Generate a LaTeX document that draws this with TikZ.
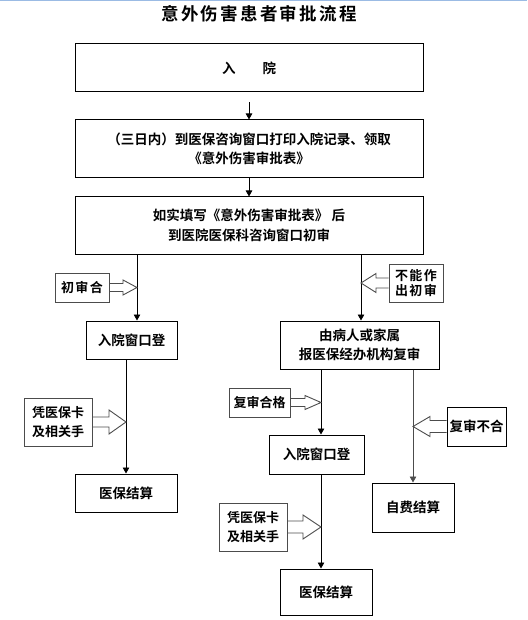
\documentclass[tikz,border=0pt]{standalone}
\usepackage{fontspec}
\setmainfont{Noto Sans CJK SC}[BoldFont={* Bold}]
\usetikzlibrary{arrows.meta, calc}
\colorlet{colorFrame}{black}
\colorlet{colorNote}{black!70}
\definecolor{colorRule}{RGB}{155,187,228}
\tikzset{
  stepbox/.style={draw=colorFrame, line width=1pt, align=center, inner sep=0pt, font=\bfseries\fontsize{13.5}{19.5}\selectfont},
  notebox/.style={draw=colorNote, line width=1pt, align=center, inner sep=0pt, font=\bfseries\fontsize{13}{19}\selectfont},
  flow/.style={-{Triangle[length=6pt,width=6.5pt]}, line width=0.9pt},
  noteshaft/.style={draw=colorNote, line width=0.9pt},
}
% box, anchor, line, shaft half, head half, head length (signed)
\newcommand{\notearrow}[6]{%
  \coordinate (tip) at (#3 |- #1.#2);
  \draw[noteshaft] ([yshift=#4pt]#1.#2) -- ([xshift=#6pt,yshift=#4pt]tip) -- ([xshift=#6pt,yshift=#5pt]tip) -- (tip)
    -- ([xshift=#6pt,yshift=-#5pt]tip) -- ([xshift=#6pt,yshift=-#4pt]tip) -- ([yshift=-#4pt]#1.#2);
}

\begin{document}
\begin{tikzpicture}[x=1pt, y=-1pt]
\useasboundingbox (0,0) rectangle (527,620);
\draw[colorRule, line width=1.5pt] (0,0.75) -- (527,0.75);
\node[font=\bfseries\fontsize{17.5}{20}\selectfont\addfontfeature{LetterSpace=13}] (title) at (259,14) {意外伤害患者审批流程};

% main steps
\node[stepbox, minimum width=348pt, minimum height=48pt] (adm) at (249,68) {入　　院};
\node[stepbox, minimum width=348pt, minimum height=58pt] (print) at (249,149) {（三日内）到医保咨询窗口打印入院记录、领取\\《意外伤害审批表》};
\node[stepbox, minimum width=348pt, minimum height=57pt] (fill) at (249,225.5) {如实填写《意外伤害审批表》 后\\到医院医保科咨询窗口初审};
\node[stepbox, minimum width=91pt, minimum height=38pt] (reg1) at (131.5,340) {入院窗口登};
\node[stepbox, minimum width=159pt, minimum height=48pt] (recheck) at (359.5,345) {由病人或家属\\报医保经办机构复审};
\node[stepbox, minimum width=102pt, minimum height=38pt] (settle1) at (126,493) {医保结算};
\node[stepbox, minimum width=95pt, minimum height=39pt] (reg2) at (316.5,454.5) {入院窗口登};
\node[stepbox, minimum width=82pt, minimum height=49pt] (self) at (413,507.5) {自费结算};
\node[stepbox, minimum width=92pt, minimum height=46pt] (settle2) at (326,592) {医保结算};

% notes
\node[notebox, minimum width=54pt, minimum height=29pt, font=\bfseries\fontsize{13}{19}\selectfont\addfontfeature{LetterSpace=10}] (chk1) at (82,287.5) {初审合};
\node[notebox, minimum width=54pt, minimum height=38pt, font=\bfseries\fontsize{13}{15}\selectfont\addfontfeature{LetterSpace=10}] (nochk) at (416,283) {不能作\\出初审};
\node[notebox, minimum width=68pt, minimum height=48pt] (card1) at (58,422) {凭医保卡\\及相关手};
\node[notebox, minimum width=61pt, minimum height=29pt] (pass) at (259.5,402.5) {复审合格};
\node[notebox, draw=colorFrame, minimum width=59pt, minimum height=39pt, font=\bfseries\fontsize{13.5}{19}\selectfont] (fail) at (476.5,426.5) {复审不合};
\node[notebox, minimum width=68pt, minimum height=48pt] (card2) at (253,527) {凭医保卡\\及相关手};

% line positions
\coordinate (xa) at (137,0);
\coordinate (xb) at (361,0);
\coordinate (xc) at (126,0);
\coordinate (xd) at (321,0);
\coordinate (xe) at (413,0);

\draw[flow, shorten <=10pt] (adm) -- (print);
\draw[flow] (print) -- (fill);
\draw[flow] (xa |- fill.south) -- (xa |- reg1.north);
\draw[flow] (xb |- fill.south) -- (xb |- recheck.north);
\draw[flow] (xc |- reg1.south) -- (xc |- settle1.north);
\draw[flow] (xd |- recheck.south) -- (xd |- reg2.north);
\draw[flow] (xd |- reg2.south) -- (xd |- settle2.north);
\draw[flow, colorNote] (xe |- recheck.south) -- (xe |- self.north);

\notearrow{chk1}{east}{xa}{4}{7.5}{-14}
\notearrow{nochk}{west}{xb}{5}{9.5}{15}
\notearrow{card1}{east}{xc}{5}{12}{-17}
\notearrow{pass}{east}{xd}{4}{7}{-16}
\notearrow{fail}{west}{xe}{6}{10}{17}
\notearrow{card2}{east}{xd}{6}{12}{-18}
\end{tikzpicture}
\end{document}
